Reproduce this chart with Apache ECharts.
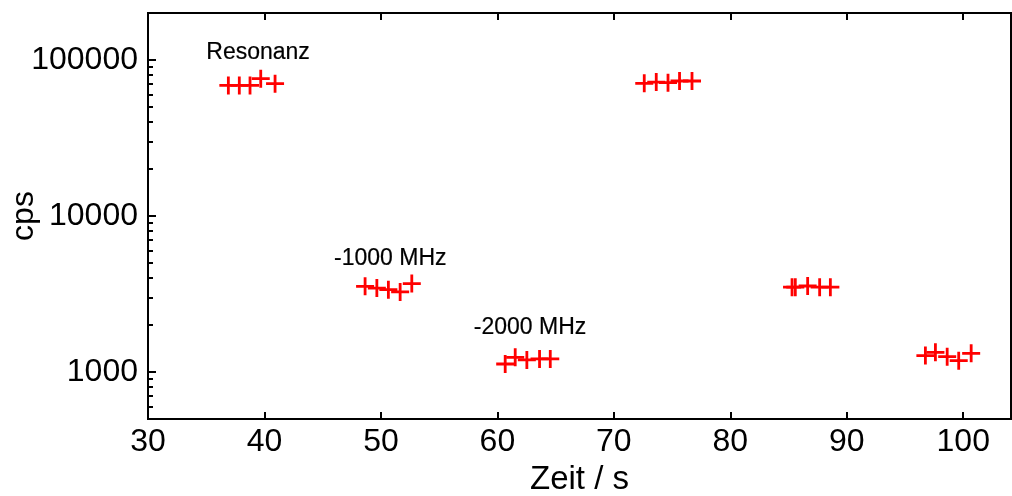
<!DOCTYPE html>
<html>
<head>
<meta charset="utf-8">
<script src="https://cdn.jsdelivr.net/npm/echarts@6/dist/echarts.min.js"></script>
<style>
  html, body { margin: 0; padding: 0; background: #fff; }
  #chart { width: 1012px; height: 496px; }
</style>
</head>
<body>
<div id="chart"></div>
<script>
// Count rate (cps) measured in six blocks over time (s)
const zeitResonanz = [36.9, 37.84, 38.76, 39.68, 40.91];
const cpsResonanz  = [68700, 68700, 68700, 75900, 70500];

const zeitMinus1000 = [48.64, 49.65, 50.64, 51.65, 52.65];
const cpsMinus1000  = [3540, 3450, 3370, 3260, 3690];

const zeitMinus2000 = [60.67, 61.53, 62.53, 63.62, 64.54];
const cpsMinus2000  = [1126, 1242, 1195, 1213, 1213];

const zeitResonanz2 = [72.61, 73.64, 74.65, 75.64, 76.71];
const cpsResonanz2  = [70800, 72200, 71500, 73300, 73300];

const zeitMinus1000b = [85.3, 85.58, 86.64, 87.67, 88.59];
const cpsMinus1000b  = [3500, 3500, 3560, 3500, 3500];

const zeitMinus2000b = [96.75, 97.61, 98.62, 99.61, 100.68];
const cpsMinus2000b  = [1274, 1337, 1255, 1182, 1318];

// Text annotations: label, time, count rate
const noteTexts = ['Resonanz', '-1000 MHz', '-2000 MHz'];
const noteZeit  = [39.45, 50.8, 62.8];
const noteCps   = [112000, 5360, 1930];

// Axis ticks
const xTicks = [30, 40, 50, 60, 70, 80, 90, 100];
const yMajor = [1000, 10000, 100000];
const yMinor = [600, 700, 800, 900,
                2000, 3000, 4000, 5000, 6000, 7000, 8000, 9000,
                20000, 30000, 40000, 50000, 60000, 70000, 80000, 90000];

const FONT = "'Liberation Sans', Arial, sans-serif";

const allZeit = [].concat(zeitResonanz, zeitMinus1000, zeitMinus2000,
                          zeitResonanz2, zeitMinus1000b, zeitMinus2000b);
const allCps = [].concat(cpsResonanz, cpsMinus1000, cpsMinus2000,
                         cpsResonanz2, cpsMinus1000b, cpsMinus2000b);
const points = allZeit.map((t, i) => [t, allCps[i]]);
const notes = noteTexts.map((s, i) => ({ value: [noteZeit[i], noteCps[i]], name: s }));

// "+" marker as a filled outline
const crossPath = 'path://M-1.4,-9 L1.4,-9 L1.4,-1.4 L9,-1.4 L9,1.4 L1.4,1.4 L1.4,9 L-1.4,9 L-1.4,1.4 L-9,1.4 L-9,-1.4 L-1.4,-1.4 Z';

const axisLineStyle = { show: true, lineStyle: { color: '#000', width: 2 } };

const chart = echarts.init(document.getElementById('chart'), null, { renderer: 'canvas' });
chart.setOption({
  animation: false,
  backgroundColor: '#fff',
  grid: {
    left: 148, right: 1, top: 13, bottom: 77,
    outerBoundsMode: 'none', containLabel: false,
    show: true, borderColor: '#000', borderWidth: 2, backgroundColor: 'transparent'
  },
  xAxis: [
    {
      type: 'value', position: 'bottom', min: 30, max: 104.1, interval: 10,
      name: 'Zeit / s', nameLocation: 'middle', nameGap: 44, nameMoveOverlap: false,
      nameTextStyle: { fontFamily: FONT, fontSize: 33, color: '#000' },
      axisLine: axisLineStyle,
      axisTick: { show: true, inside: true, length: 7, customValues: xTicks,
                  lineStyle: { color: '#000', width: 2 } },
      axisLabel: { show: true, customValues: xTicks, fontFamily: FONT, fontSize: 32,
                   color: '#000', margin: 7 },
      splitLine: { show: false }
    },
    {
      type: 'value', position: 'top', min: 30, max: 104.1, interval: 10,
      axisLine: axisLineStyle,
      axisTick: { show: true, inside: true, length: 7, customValues: xTicks,
                  lineStyle: { color: '#000', width: 2 } },
      axisLabel: { show: false },
      splitLine: { show: false }
    }
  ],
  yAxis: [
    {
      type: 'log', logBase: 10, min: 500, max: 200000, position: 'left',
      name: 'cps', nameLocation: 'middle', nameGap: 108, nameRotate: 90, nameMoveOverlap: false,
      nameTextStyle: { fontFamily: FONT, fontSize: 32, color: '#000' },
      axisLine: axisLineStyle,
      axisTick: { show: true, inside: true, length: 8, customValues: yMajor,
                  lineStyle: { color: '#000', width: 2 } },
      axisLabel: { show: true, customValues: yMajor, fontFamily: FONT, fontSize: 32,
                   color: '#000', margin: 10, formatter: v => String(Math.round(v)) },
      splitLine: { show: false },
      minorTick: { show: false }
    },
    {
      type: 'log', logBase: 10, min: 500, max: 200000, position: 'left',
      axisLine: { show: false },
      axisTick: { show: true, inside: true, length: 5, customValues: yMinor,
                  lineStyle: { color: '#000', width: 2 } },
      axisLabel: { show: false },
      splitLine: { show: false }
    }
  ],
  series: [
    {
      type: 'scatter', xAxisIndex: 0, yAxisIndex: 0,
      data: points,
      symbol: crossPath, symbolSize: 18,
      itemStyle: { color: '#ff0000', opacity: 1 },
      z: 5
    },
    {
      type: 'scatter', xAxisIndex: 0, yAxisIndex: 0,
      data: notes,
      symbolSize: 1,
      itemStyle: { color: 'transparent' },
      label: {
        show: true, position: 'inside', formatter: p => p.name,
        fontFamily: FONT, fontSize: 23, color: '#000', opacity: 1,
        textBorderColor: '#000', textBorderWidth: 0.2
      },
      silent: true,
      z: 6
    }
  ]
});
</script>
</body>
</html>
